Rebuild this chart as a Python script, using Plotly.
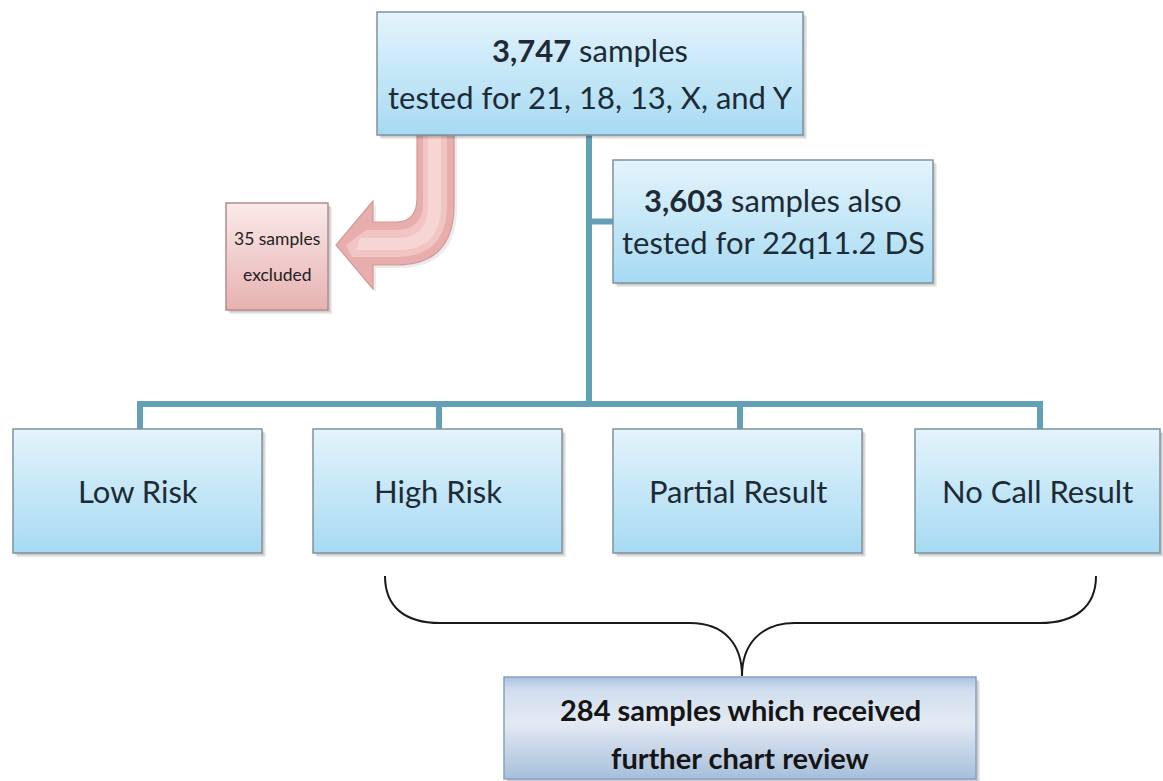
import plotly.graph_objects as go

# ---- content ----
top_lines = ["<b>3,747</b> samples", "tested for 21, 18, 13, X, and Y"]
side_lines = ["<b>3,603</b> samples also", "tested for 22q11.2 DS"]
excluded_lines = ["35 samples", "excluded"]
result_labels = ["Low Risk", "High Risk", "Partial Result", "No Call Result"]
review_lines = ["<b>284 samples which received</b>", "<b>further chart review</b>"]

# ---- layout geometry (pixels, y downwards) ----
W, H = 1163, 781
TOP_BOX = (377, 12, 803, 135)
SIDE_BOX = (613, 160, 933, 283)
EXCL_BOX = (226, 203, 328, 310)
RESULT_BOXES = [(13, 429, 262, 553), (313, 429, 562, 553), (613, 429, 862, 553), (915, 429, 1160, 553)]
STUB_X = [140, 439, 740, 1040]
BUS_Y = 404
MAIN_X = 589
REVIEW_BOX = (504, 677, 976, 779)

FONT = "Lato"
TXT = "#1d2b36"
CONN = "#62a0b6"

shapes = []
annotations = []


def hex2rgb(h):
    h = h.lstrip("#")
    return tuple(int(h[i:i + 2], 16) for i in (0, 2, 4))


def lerp(c0, c1, t):
    a, b = hex2rgb(c0), hex2rgb(c1)
    return "rgb(%d,%d,%d)" % tuple(round(a[i] + (b[i] - a[i]) * t) for i in range(3))


def grad_box(box, stops, border, bw=1.5, n=40, shadow=True):
    x0, y0, x1, y1 = box
    if shadow:
        for off, a in ((4, 0.08), (2.5, 0.13)):
            shapes.append(dict(type="rect", x0=x0 + off, y0=y0 + off, x1=x1 + off, y1=y1 + off,
                               fillcolor="rgba(0,0,0,%s)" % a, line=dict(width=0), layer="above"))
    for i in range(n):
        t = (i + 0.5) / n
        col = stops[-1][1]
        for j in range(len(stops) - 1):
            p0, c0 = stops[j]
            p1, c1 = stops[j + 1]
            if p0 <= t <= p1:
                col = lerp(c0, c1, (t - p0) / (p1 - p0))
                break
        ya = y0 + (y1 - y0) * i / n
        yb = y0 + (y1 - y0) * (i + 1) / n + 0.6
        shapes.append(dict(type="rect", x0=x0, x1=x1, y0=ya, y1=min(yb, y1), fillcolor=col,
                           line=dict(width=0), layer="above"))
    shapes.append(dict(type="rect", x0=x0, y0=y0, x1=x1, y1=y1, fillcolor="rgba(0,0,0,0)",
                       line=dict(color=border, width=bw), layer="above"))


def text(x, y, s, size, color=TXT):
    annotations.append(dict(x=x, y=y, xref="x", yref="y", text=s, showarrow=False,
                            font=dict(family=FONT, size=size, color=color),
                            xanchor="center", yanchor="middle"))


BLUE = [(0, "#e4f4fc"), (1, "#a6daf3")]
PINK = [(0, "#fbeaea"), (1, "#e7b1b1")]
REVIEW = [(0, "#a9c2de"), (0.12, "#cfdded"), (0.45, "#e3eaf3"), (1, "#a6bedb")]

# connectors (below boxes)
shapes.append(dict(type="path", path=f"M {MAIN_X},{TOP_BOX[3]} V {BUS_Y}",
                   line=dict(color=CONN, width=6), layer="above"))
shapes.append(dict(type="path", path=f"M {MAIN_X},{(SIDE_BOX[1]+SIDE_BOX[3])/2} H {SIDE_BOX[0]}",
                   line=dict(color=CONN, width=6), layer="above"))
shapes.append(dict(type="path",
                   path=f"M {STUB_X[0]},{RESULT_BOXES[0][1]} V {BUS_Y} H {STUB_X[-1]} V {RESULT_BOXES[-1][1]}",
                   line=dict(color=CONN, width=6), layer="above"))
for sx in STUB_X[1:-1]:
    shapes.append(dict(type="path", path=f"M {sx},{BUS_Y} V {RESULT_BOXES[0][1]}",
                       line=dict(color=CONN, width=6), layer="above"))

# curved exclusion arrow
arrow_path = ("M 417,134 L 454,134 L 454,205 Q 454,265 396,265 L 373,265 L 373,289 "
              "L 336,245 L 373,201 L 373,222 L 396,222 Q 417,222 417,198 Z")
shapes.append(dict(type="path", path=("M 420,137 L 457,137 L 457,208 Q 457,268 399,268 L 376,268 L 376,292 "
                                      "L 339,248 L 376,204 L 376,225 L 399,225 Q 420,225 420,201 Z"),
                   fillcolor="rgba(0,0,0,0.08)", line=dict(width=0), layer="above"))
shapes.append(dict(type="path", path=arrow_path, fillcolor="#e8adad",
                   line=dict(color="#d49a9a", width=1.2), layer="above"))
shapes.append(dict(type="path",
                   path="M 423,136 L 447,136 L 447,205 Q 447,257 396,257 L 352,257 L 346,245 L 366,230 L 396,230 Q 423,230 423,203 Z",
                   fillcolor="rgba(248,214,214,0.6)", line=dict(width=0), layer="above"))
shapes.append(dict(type="path",
                   path="M 428,136 L 441,136 L 441,205 Q 441,250 398,250 L 356,250 L 360,238 L 398,238 Q 428,238 428,205 Z",
                   fillcolor="rgba(251,230,230,0.5)", line=dict(width=0), layer="above"))

# boxes
grad_box(TOP_BOX, BLUE, "#7f939c")
grad_box(SIDE_BOX, BLUE, "#7f939c")
grad_box(EXCL_BOX, PINK, "#b78a8a")
for b in RESULT_BOXES:
    grad_box(b, BLUE, "#7f939c")
grad_box(REVIEW_BOX, REVIEW, "#86a2c2", bw=1.5)

# brace
brace = ("M 385,576 C 385,607 405,623 440,623 L 690,623 C 725,623 742,645 742,676 "
         "C 742,645 760,623 795,623 L 1040,623 C 1075,623 1096,607 1096,576")
shapes.append(dict(type="path", path=brace, line=dict(color="#1a1a1a", width=2),
                   fillcolor="rgba(0,0,0,0)", layer="above"))

# texts
cx = (TOP_BOX[0] + TOP_BOX[2]) / 2
text(cx, 50, top_lines[0], 31)
text(cx, 97, top_lines[1], 31)
cx = (SIDE_BOX[0] + SIDE_BOX[2]) / 2
text(cx, 200, side_lines[0], 31)
text(cx, 242, side_lines[1], 31)
cx = (EXCL_BOX[0] + EXCL_BOX[2]) / 2
text(cx, 238, excluded_lines[0], 17.5, "#222222")
text(cx, 274, excluded_lines[1], 17.5, "#222222")
for b, lab in zip(RESULT_BOXES, result_labels):
    text((b[0] + b[2]) / 2, (b[1] + b[3]) / 2, lab, 31)
cx = (REVIEW_BOX[0] + REVIEW_BOX[2]) / 2
text(cx, 709, review_lines[0], 29, "#151515")
text(cx, 757, review_lines[1], 29, "#151515")

fig = go.Figure()
fig.add_trace(go.Scatter(x=[0], y=[0], mode="markers", marker=dict(opacity=0), hoverinfo="skip",
                         showlegend=False))
fig.update_layout(
    width=W, height=H, margin=dict(l=0, r=0, t=0, b=0),
    paper_bgcolor="white", plot_bgcolor="white",
    xaxis=dict(range=[0, W], visible=False, fixedrange=True),
    yaxis=dict(range=[H, 0], visible=False, fixedrange=True),
    shapes=shapes, annotations=annotations, showlegend=False,
)
fig.write_html("out.html", config={"displayModeBar": False},
               post_script="document.body.style.margin='0px';document.body.style.overflow='hidden';")
